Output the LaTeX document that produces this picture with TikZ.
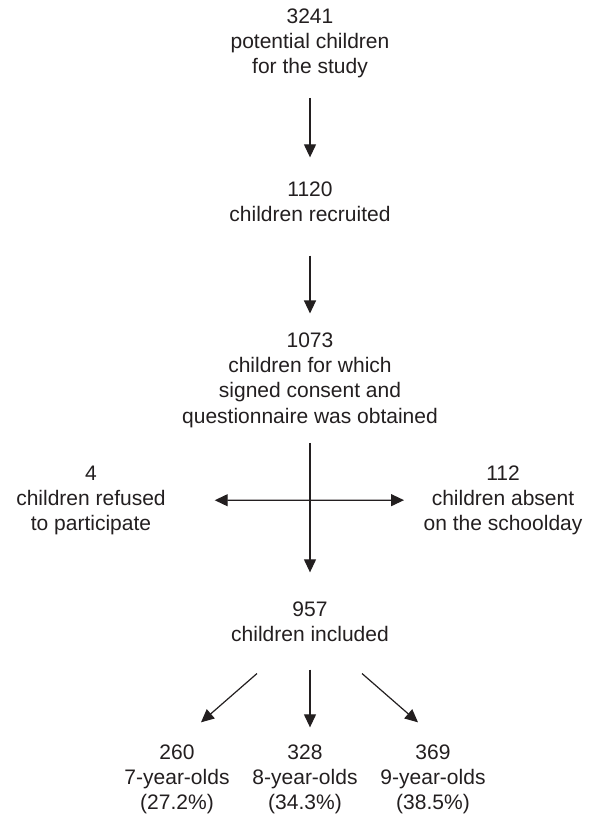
\documentclass[tikz,border=0pt]{standalone}
\usepackage{fontspec}
\setmainfont{Liberation Sans}
\usetikzlibrary{arrows.meta}
\definecolor{ink}{RGB}{35,31,32}
\begin{document}
\begin{tikzpicture}[x=1pt,y=-1pt,
  txt/.style={align=center,inner sep=0pt,outer sep=0pt,anchor=base,text=ink,
    font={\fontsize{21}{25.3}\selectfont}},
  arr/.style={draw=ink,line width=1.2pt,-{Triangle[width=12pt,length=13pt]}},
  darr/.style={draw=ink,line width=1.2pt,{Triangle[width=12pt,length=13pt]}-{Triangle[width=12pt,length=13pt]}}]
\useasboundingbox[fill=white] (0,0) rectangle (592,814);
\node[txt] (n1) at (310,73.6) {3241\\potential children\\for the study};
\node[txt] (n2) at (310,221.3) {1120\\children recruited};
\node[txt] (n3) at (310,423) {1073\\children for which\\signed consent and\\questionnaire was obtained};
\node[txt] (left) at (91,530.6) {4\\children refused\\to participate};
\node[txt] (right) at (503,530.6) {112\\children absent\\on the schoolday};
\node[txt] (n4) at (310,641.3) {957\\children included};
\node[txt] (b1) at (177,809.6) {260\\7-year-olds\\(27.2\%)};
\node[txt] (b2) at (305,809.6) {328\\8-year-olds\\(34.3\%)};
\node[txt] (b3) at (433,809.6) {369\\9-year-olds\\(38.5\%)};
\draw[arr,shorten <=20pt,shorten >=24pt] (n1.south) -- (n2.north);
\draw[arr,shorten <=34pt,shorten >=19pt] (n2.south) -- (n3.north);
\draw[arr,shorten <=15.6pt,shorten >=29pt] (n3.south) -- (n4.north);
\draw[darr,shorten <=49pt,shorten >=19.6pt] (left.east) -- (right.west);
\draw[arr] ([shift={(-53,32)}]n4.south) -- ([shift={(24,-22)}]b1.north);
\draw[arr] ([shift={(0,28)}]n4.south) -- ([shift={(0,-17)}]n4.south |- b2.north);
\draw[arr] ([shift={(52,32)}]n4.south) -- ([shift={(-15,-22)}]b3.north);
\end{tikzpicture}
\end{document}
